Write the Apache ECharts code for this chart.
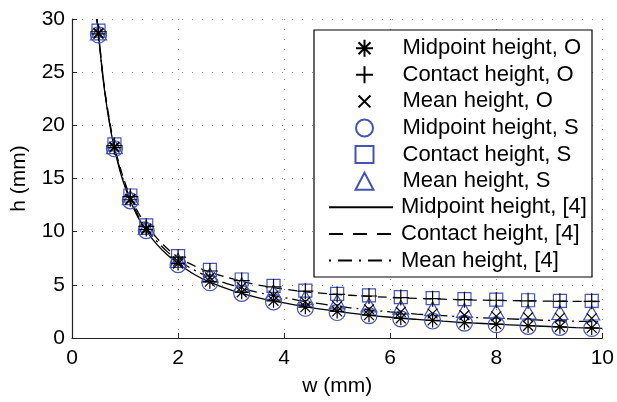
<!DOCTYPE html>
<html><head><meta charset="utf-8">
<script src="https://cdn.jsdelivr.net/npm/echarts@6/dist/echarts.min.js"></script>
<style>html,body{margin:0;padding:0;background:#fff;}#c{width:617px;height:402px;}</style>
</head><body><div id="c"></div>
<script>
// marker x positions (w, mm)
const w = [0.5,0.8,1.1,1.4,2.0,2.6,3.2,3.8,4.4,5.0,5.6,6.2,6.8,7.4,8.0,8.6,9.2,9.8];
const midO  = [28.6,17.9,13.0,10.2,7.0,5.3,4.3,3.5,2.9,2.5,2.15,1.85,1.65,1.45,1.3,1.15,1.05,0.95];
const conO  = [28.8,18.1,13.3,10.5,7.6,6.3,5.4,4.8,4.4,4.1,3.95,3.8,3.7,3.6,3.55,3.5,3.45,3.45];
const meanO = [28.7,18.0,13.1,10.3,7.2,5.7,4.8,4.0,3.4,3.0,2.7,2.45,2.3,2.15,2.05,1.95,1.9,1.85];
const midS  = [28.5,17.8,12.9,10.1,6.9,5.2,4.2,3.4,2.8,2.4,2.1,1.8,1.6,1.4,1.25,1.1,1.0,0.9];
const conS  = [28.9,18.2,13.4,10.6,7.7,6.4,5.5,4.9,4.45,4.15,4.0,3.85,3.75,3.65,3.6,3.55,3.5,3.5];
const meanS = [28.7,18.0,13.2,10.4,7.3,5.9,5.0,4.3,3.8,3.4,3.1,2.9,2.75,2.6,2.5,2.45,2.4,2.35];
// reference [4] curves
const cw = [0.47,0.5,0.6,0.7,0.8,0.9,1.0,1.1,1.25,1.4,1.6,1.8,2.0,2.3,2.6,3.0,3.5,4.0,4.5,5.0,5.5,6.0,6.5,7.0,7.5,8.0,8.5,9.0,9.5,10];
const midCurve  = [30.0,28.5,23.8,20.4,17.8,15.8,14.2,12.9,11.3,10.1,8.8,7.8,7.0,6.0,5.25,4.5,3.8,3.3,2.85,2.5,2.2,1.95,1.75,1.58,1.43,1.3,1.18,1.08,0.98,0.9];
const conCurve  = [30.0,28.7,24.0,20.7,18.1,16.2,14.6,13.3,11.8,10.6,9.4,8.4,7.6,6.8,6.2,5.6,5.0,4.6,4.3,4.1,3.95,3.82,3.72,3.65,3.58,3.54,3.5,3.47,3.45,3.43];
const meanCurve = [30.0,28.6,23.9,20.5,17.9,16.0,14.4,13.1,11.5,10.3,9.1,8.1,7.3,6.4,5.7,5.0,4.3,3.8,3.35,3.0,2.7,2.45,2.25,2.1,1.95,1.85,1.75,1.65,1.58,1.52];
const names = ['Midpoint height, O','Contact height, O','Mean height, O','Midpoint height, S','Contact height, S','Mean height, S','Midpoint height, [4]','Contact height, [4]','Mean height, [4]'];
const xTicks = [0,2,4,6,8,10];
const yTicks = [0,5,10,15,20,25,30];

const pair = (xs, ys) => xs.map((x,i)=>[x, ys[i]]);
const BLUE = '#4254b4';
const FONT = 'Liberation Sans, Arial, Helvetica, sans-serif';
const star = 'path://M0,-10L0,10M-10,0L10,0M-7.07,-7.07L7.07,7.07M-7.07,7.07L7.07,-7.07';
const plus = 'path://M0,-10L0,10M-10,0L10,0';
// cross drawn at 70% of its box (tiny invisible corner segments keep the box)
const cross = 'path://M-7,-7L7,7M-7,7L7,-7M-10,-10L-9.99,-10M10,10L9.99,10';

function sc(name, data, symbol, size, color, z){
  return {name, type:'scatter', data, symbol, symbolSize:size, z,
    itemStyle:{color:'none', borderColor:color, borderWidth:1.2, opacity:1},
    emphasis:{disabled:true}, silent:true};
}
function ln(name, ys, type){
  return {name, type:'line', data:pair(cw, ys), symbol:'circle', showSymbol:false, smooth:0.4, z:2,
    lineStyle:{color:'#000', width:1.3, type}, itemStyle:{color:'rgba(0,0,0,0)', borderColor:'rgba(0,0,0,0)', borderWidth:0},
    emphasis:{disabled:true}, silent:true, clip:true};
}
const dotted = {show:true, lineStyle:{color:'#8a8a8a', width:1, type:[1,9]}};
const axisCommon = {
  axisLine:{show:true, onZero:false, lineStyle:{color:'#222', width:1.2}},
  axisTick:{show:true, inside:true, length:5, lineStyle:{color:'#222'}},
  splitLine:dotted,
  axisLabel:{color:'#000', fontSize:21, fontFamily:FONT},
  nameTextStyle:{color:'#000', fontSize:21, fontFamily:FONT}
};
const chart = echarts.init(document.getElementById('c'), null, {renderer:'canvas'});
chart.setOption({
  animation:false,
  backgroundColor:'#fff',
  grid:{left:72, right:14, top:19, bottom:57, containLabel:false},
  xAxis:Object.assign({type:'value', min:xTicks[0], max:xTicks[xTicks.length-1], interval:2, name:'w (mm)', nameLocation:'middle', nameGap:38}, axisCommon,
    {axisLabel:Object.assign({}, axisCommon.axisLabel, {margin:10})}),
  yAxis:Object.assign({type:'value', min:yTicks[0], max:yTicks[yTicks.length-1], interval:5, name:'h (mm)', nameLocation:'middle', nameGap:42}, axisCommon,
    {axisLabel:Object.assign({}, axisCommon.axisLabel, {margin:7})}),
  graphic:[{type:'rect', shape:{x:314, y:30, width:278, height:247}, style:{fill:'#fff', stroke:'#000', lineWidth:1.2}, z:3, silent:true}],
  legend:[
    {data:names.slice(0,6), orient:'vertical', left:353, top:36.2, padding:0, itemWidth:18, itemHeight:17, itemGap:2.6, selectedMode:false, z:5,
     textStyle:{fontSize:22, fontFamily:FONT, color:'#000', lineHeight:24, padding:[0,0,0,24]}},
    {data:[
       {name:names[6]},
       {name:names[7], lineStyle:{type:[14,10]}},
       {name:names[8], lineStyle:{type:[2,7,14,7]}}
     ], orient:'vertical', left:328, top:195.3, padding:0, itemWidth:64, itemHeight:14, itemGap:2.6, selectedMode:false, z:5,
     textStyle:{fontSize:22, fontFamily:FONT, color:'#000', lineHeight:24, padding:[0,0,0,3]}}
  ],
  series:[
    ln(names[6], midCurve, 'solid'),
    ln(names[7], conCurve, [9,6]),
    ln(names[8], meanCurve, [12,5,2,5]),
    sc(names[3], pair(w, midS), 'circle', 16, BLUE, 3),
    sc(names[4], pair(w, conS), 'rect', 13, BLUE, 3),
    sc(names[5], pair(w, meanS), 'triangle', [16,14], BLUE, 3),
    sc(names[0], pair(w, midO), star, 14, '#000', 4),
    sc(names[1], pair(w, conO), plus, 16, '#000', 4),
    sc(names[2], pair(w, meanO), cross, 14, '#000', 4)
  ]
});
</script></body></html>
